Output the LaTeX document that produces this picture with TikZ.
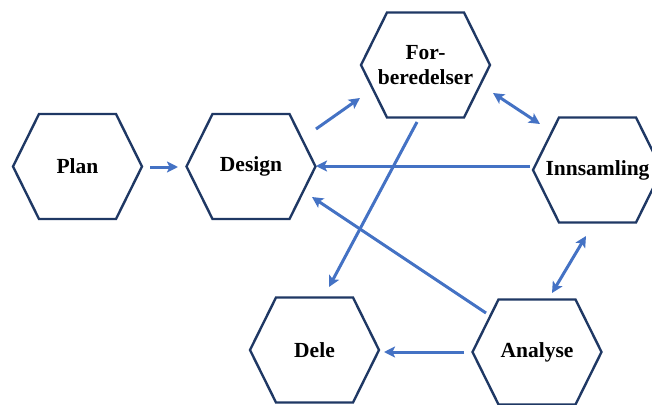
\documentclass[tikz,border=0pt]{standalone}
\usepackage{fontspec}
\setmainfont{Liberation Serif}
\usetikzlibrary{arrows.meta}
\definecolor{hexblue}{HTML}{1F3864}
\definecolor{arrowblue}{HTML}{4472C4}
% flat-topped hexagon around a named node
\newcommand\hexaround[1]{%
  \draw[hexline] (#1.center) ++(-64.5,0) -- ++(26,-52.5) -- ++(77,0)
    -- ++(26,52.5) -- ++(-26,52.5) -- ++(-77,0) -- cycle;}
\begin{document}
\begin{tikzpicture}[x=1pt,y=-1pt,
  hexline/.style={draw=hexblue,line width=2.4pt,line join=miter},
  steplabel/.style={font=\bfseries\fontsize{21.5}{25}\selectfont,align=center,inner sep=0pt},
  flow/.style={draw=arrowblue,line width=3pt,-{Stealth[length=11pt,width=11pt,inset=2.5pt]}},
  flowboth/.style={draw=arrowblue,line width=3pt,{Stealth[length=11pt,width=11pt,inset=2.5pt]}-{Stealth[length=11pt,width=11pt,inset=2.5pt]}}]
\useasboundingbox (0,0) rectangle (652,404);

\node[steplabel] (plan) at (77.5,166.5) {Plan};
\node[steplabel] (design) at (251,166.5) {Design};
\node[steplabel] (forb) at (425.5,65) {For-\\beredelser};
\node[steplabel] (innsam) at (597.5,170) {Innsamling};
\node[steplabel] (dele) at (314.5,350) {Dele};
\node[steplabel] (analyse) at (537,352) {Analyse};

\hexaround{plan}
\hexaround{design}
\hexaround{forb}
\hexaround{innsam}
\hexaround{dele}
\hexaround{analyse}

% connector end points
\coordinate (planout) at (150,167);
\coordinate (designin) at (178,167);
\coordinate (designout) at (316,129);
\coordinate (forbin) at (360,98);
\coordinate (forbside) at (493,93);
\coordinate (innsamtop) at (540,124);
\coordinate (innsamout) at (530,166);
\coordinate (designright) at (316,166);
\coordinate (forbout) at (417,122);
\coordinate (delein) at (329,287);
\coordinate (analyseout) at (486,313);
\coordinate (designlow) at (312,197);
\coordinate (innsamlow) at (586,236);
\coordinate (analysetop) at (552,293);
\coordinate (analyseleft) at (464,352);
\coordinate (deleright) at (384,352);

\draw[flow] (planout) -- (designin);
\draw[flow] (designout) -- (forbin);
\draw[flowboth] (forbside) -- (innsamtop);
\draw[flow] (innsamout) -- (designright);
\draw[flow] (forbout) -- (delein);
\draw[flow] (analyseout) -- (designlow);
\draw[flowboth] (innsamlow) -- (analysetop);
\draw[flow] (analyseleft) -- (deleright);
\end{tikzpicture}
\end{document}
